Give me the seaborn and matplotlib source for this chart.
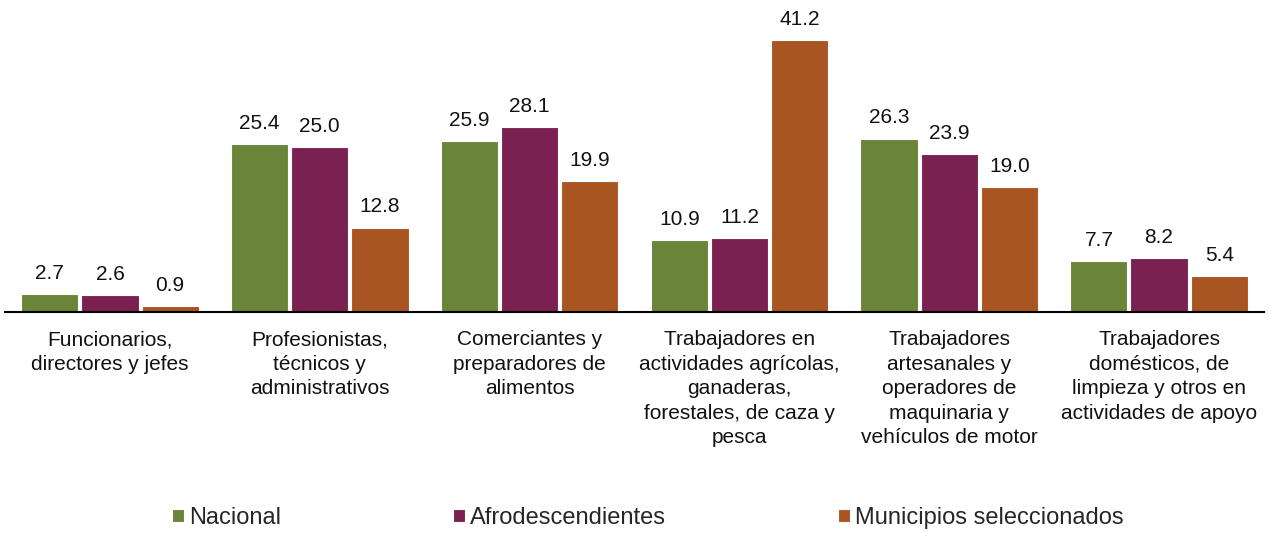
import pandas as pd
import seaborn as sns
import matplotlib.pyplot as plt

# datos
categorias = [
    "Funcionarios,\ndirectores y jefes",
    "Profesionistas,\ntécnicos y\nadministrativos",
    "Comerciantes y\npreparadores de\nalimentos",
    "Trabajadores en\nactividades agrícolas,\nganaderas,\nforestales, de caza y\npesca",
    "Trabajadores\nartesanales y\noperadores de\nmaquinaria y\nvehículos de motor",
    "Trabajadores\ndomésticos, de\nlimpieza y otros en\nactividades de apoyo",
]
series = ["Nacional", "Afrodescendientes", "Municipios seleccionados"]
nacional = [2.7, 25.4, 25.9, 10.9, 26.3, 7.7]
afro = [2.6, 25.0, 28.1, 11.2, 23.9, 8.2]
municipios = [0.9, 12.8, 19.9, 41.2, 19.0, 5.4]
colores = ["#6A843A", "#7B2152", "#A85522"]

df = pd.DataFrame({
    "categoria": categorias * 3,
    "serie": [s for s in series for _ in categorias],
    "valor": nacional + afro + municipios,
})

sns.set_style("white")
plt.rcParams["font.family"] = ["Liberation Sans", "DejaVu Sans"]

fig = plt.figure(figsize=(12.69, 5.33), dpi=100)
ax = fig.add_axes([0.004, 0.4146, 0.992, 0.557])

sns.barplot(data=df, x="categoria", y="valor", hue="serie", palette=colores,
            saturation=1, width=0.86, gap=0.05, edgecolor="white", linewidth=0.8,
            errorbar=None, ax=ax, legend=True)

for cont in ax.containers:
    ax.bar_label(cont, fmt="%.1f", padding=8, fontsize=15, color="#111111")

ax.set_xlim(-0.5, 5.5)
ax.set_ylim(0, 45)
ax.set_xlabel("")
ax.set_ylabel("")
ax.set_yticks([])
ax.tick_params(axis="x", length=0, pad=13, labelsize=15, colors="#111111")
for lbl in ax.get_xticklabels():
    lbl.set_linespacing(1.37)
for s in ["top", "left", "right"]:
    ax.spines[s].set_visible(False)
ax.spines["bottom"].set_color("black")
ax.spines["bottom"].set_linewidth(1.5)

handles, labels = ax.get_legend_handles_labels()
ax.get_legend().remove()
fig.legend(handles, labels, loc="center", bbox_to_anchor=(0.5106, 0.028), ncol=3,
           frameon=False, fontsize=17, handlelength=0.5, handleheight=0.5,
           handletextpad=0.2, columnspacing=7.3)

fig.savefig("out.png", dpi=100)
